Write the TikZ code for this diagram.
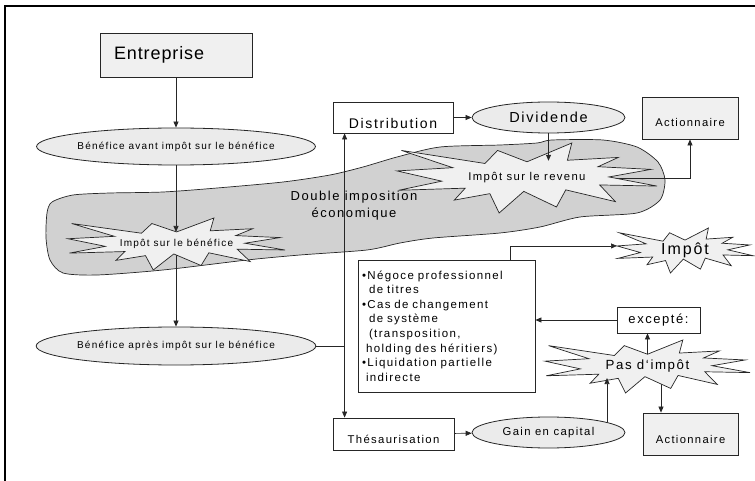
\documentclass[tikz,border=0pt]{standalone}
\usepackage{fontspec}
\setmainfont{Liberation Sans}[LetterSpace=12]
\usetikzlibrary{arrows.meta,shapes.geometric,calc}
\pgfdeclarelayer{cloud}
\pgfdeclarelayer{links}
\pgfsetlayers{cloud,links,main}

\definecolor{boxfill}{gray}{0.94}
\definecolor{ovalfill}{gray}{0.92}
\definecolor{cloudfill}{gray}{0.82}
\definecolor{starfill}{gray}{0.94}
\definecolor{edge}{gray}{0.15}

\newcommand{\fs}[1]{\fontsize{#1}{#1}\selectfont}

\tikzset{
  box/.style={draw=edge, line width=0.8pt, fill=boxfill, inner sep=0pt},
  oval/.style={ellipse, draw=edge, line width=0.8pt, fill=ovalfill, inner sep=0pt},
  link/.style={draw=edge, line width=0.7pt},
  arr/.style={link, -{Triangle[length=6pt,width=5pt]}},
  pics/burst/.style 2 args={code={
    \draw[line width=0.7pt, draw=edge, fill=starfill] (0,-.2315) -- (.1723,-.5) -- (.1553,-.2535) -- (.3509,-.2937) -- (.2732,-.1613) -- (.4767,-.1233) -- (.3151,-.0150) -- (.5,.1153) -- (.2795,.0992) -- (.34,.3377) -- (.1491,.1693) -- (.1133,.4138) -- (-.0124,.1914) -- (-.1072,.5) -- (-.1428,.2235) -- (-.2795,.3156) -- (-.2376,.1452) -- (-.4938,.1753) -- (-.3277,.0451) -- (-.5,-.1011) -- (-.2858,-.1474) -- (-.4829,-.3938) -- (-.1615,-.2074) -- (-.1133,-.3938) -- cycle;
    \coordinate (-c) at (0,0);
    \coordinate (-n) at (0,-.2315);
    \coordinate (-w) at (-.5,-.1011);
    \node[font=#2, inner sep=0pt] (-t) at (0,0) {#1};
  }},
}

\begin{document}
\begin{tikzpicture}[x=1pt,y=-1pt]
\useasboundingbox (0,0) rectangle (755,481);
\draw[line width=2.5pt] (5,481) -- (5,6) -- (755,6);

% cloud
\begin{pgfonlayer}{cloud}
\draw[link, fill=cloudfill] plot[smooth cycle, tension=0.45] coordinates {(47,213) (52,202) (73,195) (110,193) (163,192) (217,188) (283,182) (330,175) (363,167) (397,157) (440,147) (500,145) (537,143) (552,140) (603,140) (637,147) (658,162) (665,180) (660,200) (637,213) (580,217) (540,227) (500,233) (433,238) (400,243) (367,250) (300,255) (247,260) (163,270) (97,275) (63,273) (50,260) (46,238)};
\end{pgfonlayer}

\node[box, minimum width=152pt, minimum height=44pt, text width=124pt, inner xsep=14pt, align=left, font=\fs{18}\addfontfeatures{LetterSpace=5}] (ent) at (176,55) {Entreprise};
\node[oval, minimum width=267pt, minimum height=37pt, font=\fs{10}] (benA) at (176,146.5) {Bénéfice avant impôt sur le bénéfice};
\pic[xscale=217, yscale=52] (sb) at (176.5,244) {burst={Impôt sur le bénéfice}{\fs{10}}};
\node[oval, minimum width=265pt, minimum height=38pt, font=\fs{10}] (benB) at (176,346) {Bénéfice après impôt sur le bénéfice};

\node[box, fill=white, minimum width=120pt, minimum height=31pt, text height=22pt, text depth=0pt, font=\fs{14}] (dist) at (393,117.5) {Distribution};
\node[oval, minimum width=153pt, minimum height=31pt, font=\fs{14.5}] (div) at (548.5,117.5) {Dividende};
\pic[xscale=260, yscale=70] (sr) at (527,178) {burst={Impôt sur le revenu}{\fs{11.3}}};
\node[box, minimum width=96pt, minimum height=42pt, text height=18pt, text depth=0pt, font=\fs{11.2}] (actA) at (690,118) {Actionnaire};
\node[font=\fontsize{13}{17}\selectfont, align=center] (dbl) at (354,206) {Double imposition\\économique};

\node[box, fill=white, minimum width=177pt, minimum height=132pt, text width=169pt, inner xsep=4pt, align=left, font=\fontsize{11.5}{14.6}\selectfont] (lst) at (446.5,326) {•Négoce professionnel\\\hspace*{7pt}de titres\\•Cas de changement\\\hspace*{7pt}de système\\\hspace*{7pt}(transposition,\\\hspace*{4pt}holding des héritiers)\\•Liquidation partielle\\\hspace*{4pt}indirecte};
\pic[xscale=136, yscale=45] (imp) at (685,250.5) {burst={Impôt}{\fs{16}}};
\node[box, fill=white, minimum width=83pt, minimum height=26pt, font=\fs{13}] (exc) at (658.5,320) {excepté:};
\pic[xscale=205, yscale=53] (pas) at (647.5,366.5) {burst={Pas d‘impôt}{\fs{13.3}}};
\node[box, minimum width=95pt, minimum height=42pt, text height=18pt, text depth=0pt, font=\fs{11.2}] (actB) at (690.5,434) {Actionnaire};

\node[box, fill=white, minimum width=121pt, minimum height=32pt, text height=18pt, text depth=0pt, font=\fs{11.3}] (thes) at (393.5,434) {Thésaurisation};
\node[oval, minimum width=153pt, minimum height=31pt, font=\fs{11.3}] (gain) at (548.5,432.5) {Gain en capital};

\coordinate (vl) at ([xshift=12pt]dist.south west);
\coordinate (pasdn) at ([xshift=13.5pt]pas-c);
\coordinate (pasft) at ([yshift=-11.5pt]pas-c);

% lines that leave a star run beneath it
\begin{pgfonlayer}{links}
\draw[arr] (benB |- sb-c) -- (benB);
\draw[arr] (sr-c) -| (actA);
\draw[arr] (pas-c) -- (pas-c |- exc.south);
\draw[arr] (pasdn) -- (pasdn |- actB.north);
\end{pgfonlayer}

\draw[arr] (ent) -- (benA);
\draw[arr] (benA) -- (benA |- sb-n);
\draw[link] (benB) -- (benB -| vl);
\draw[arr, {Triangle[length=6pt,width=5pt]}-{Triangle[length=6pt,width=5pt]}] (vl) -- (vl |- thes.north);
\draw[arr] (dist) -- (div);
\draw[arr] (div) -- ([yshift=1pt]div |- sr-n);
\draw[arr] ([xshift=-25pt]lst.north east) |- (imp-w);
\draw[arr] (exc) -- (exc -| lst.east);
\draw[arr] (thes) -- (gain);
\draw[arr] (gain.10) -- (gain.10 |- pasft);
\end{tikzpicture}
\end{document}
